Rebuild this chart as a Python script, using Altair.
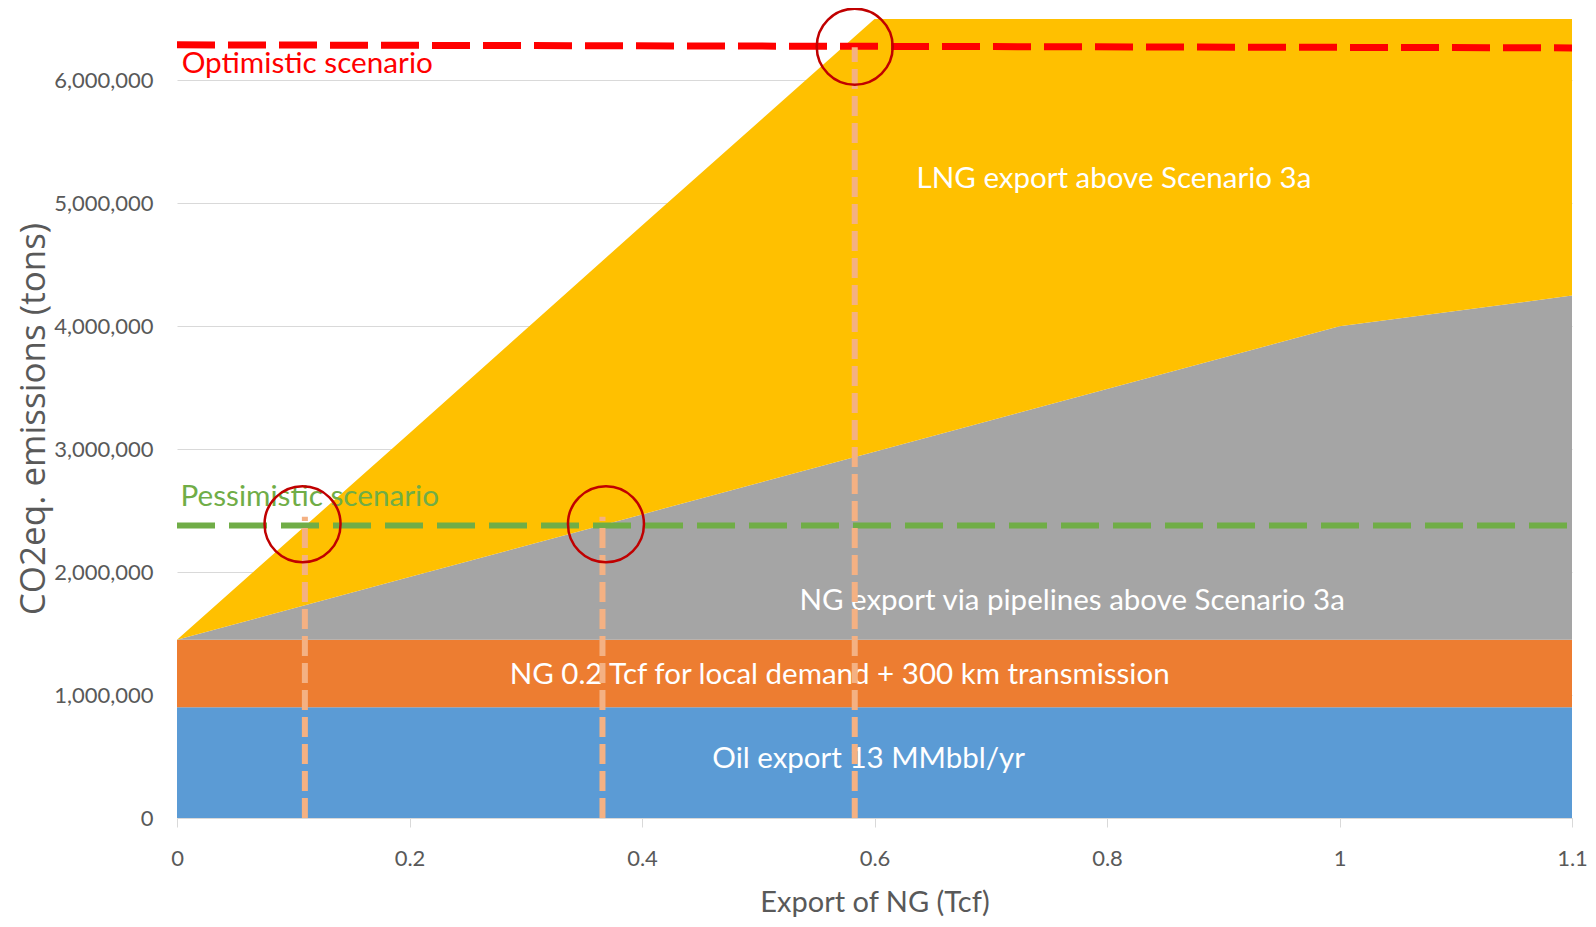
import altair as alt
import pandas as pd

# ---- data ----
x_vals = [0, 0.2, 0.4, 0.6, 0.8, 1.0, 1.1]
series_names = [
    "Oil export",
    "NG local demand",
    "NG pipelines",
    "LNG export",
]
oil = [900000, 900000, 900000, 900000, 900000, 900000, 900000]
ng_local = [550000, 550000, 550000, 550000, 550000, 550000, 550000]
ng_pipe = [0, 510000, 1020000, 1530000, 2040000, 2550000, 2800000]
lng = [0, 1170000, 2350000, 3520000, 3010000, 2500000, 2250000]
series_colors = ["#5B9BD5", "#ED7D31", "#A5A5A5", "#FFC000"]

x_ticks = [0, 0.2, 0.4, 0.6, 0.8, 1, 1.1]
y_ticks = [0, 1000000, 2000000, 3000000, 4000000, 5000000, 6000000]

opt_x = [0, 1.1]
opt_y = [6290000, 6265000]
pes_x = [0, 1.1]
pes_y = [2380000, 2380000]

vline_x = [0.11, 0.366, 0.583]
vline_top = [2450000, 2450000, 6270000]

circle_x = [0.108, 0.369, 0.583]
circle_y = [2390000, 2390000, 6275000]

area_labels = [
    "LNG export above Scenario 3a",
    "NG export via pipelines above Scenario 3a",
    "NG 0.2 Tcf for local demand + 300 km transmission",
    "Oil export 13 MMbbl/yr",
]
area_label_x = [0.806, 0.770, 0.570, 0.595]
area_label_y = [5200000, 1763000, 1167000, 480000]

scen_labels = ["Optimistic scenario", "Pessimistic scenario"]
scen_label_x = [0.004, 0.003]
scen_label_y = [6134000, 2608000]
scen_colors = ["#FF0000", "#70AD47"]

# ---- build tables ----
rows = []
for k, (name, vals) in enumerate(zip(series_names, [oil, ng_local, ng_pipe, lng])):
    for xv, v in zip(x_vals, vals):
        rows.append({"x": xv, "value": v, "series": name, "order": k})
df_area = pd.DataFrame(rows)

FONT_N = "Lato, Liberation Sans, sans-serif"
W, H = 1395, 799

x_scale = alt.Scale(domain=[0, 1, 1.1], range=[0, W * 5 / 6, W], nice=False, zero=False)
y_scale = alt.Scale(domain=[0, 6500000], nice=False)

x_axis = alt.Axis(
    values=x_ticks, format="~g", grid=False, labelFlush=False,
    domainColor="#D9D9D9", tickColor="#D9D9D9", tickSize=9,
    labelFont=FONT_N, labelFontSize=22, labelColor="#595959", labelPadding=21,
    title="Export of NG (Tcf)", titleFont=FONT_N, titleFontSize=29,
    titleColor="#595959", titleFontWeight="normal", titleY=84, titleBaseline="middle",
)
y_axis = alt.Axis(
    values=y_ticks, format=",.0f", grid=True, gridColor="#D9D9D9",
    domain=False, ticks=False,
    labelFont=FONT_N, labelFontSize=22, labelColor="#595959", labelPadding=24,
    title="CO2eq. emissions (tons)", titleFont="Open Sans", titleFontSize=35,
    titleColor="#595959", titleFontWeight="normal",
    titleX=-144, titleY=H / 2, titleAngle=270, titleAlign="center", titleBaseline="middle",
)

areas = alt.Chart(df_area).mark_area(opacity=1).encode(
    x=alt.X("x:Q", scale=x_scale, axis=x_axis),
    y=alt.Y("value:Q", stack="zero", scale=y_scale, axis=y_axis),
    color=alt.Color("series:N", scale=alt.Scale(domain=series_names, range=series_colors), legend=None),
    order=alt.Order("order:Q", sort="ascending"),
)

df_lab = pd.DataFrame({"x": area_label_x, "y": area_label_y, "t": area_labels})
labels = alt.Chart(df_lab).mark_text(
    font=FONT_N, fontSize=29.5, color="white", align="center", baseline="middle"
).encode(x=alt.X("x:Q", scale=x_scale), y=alt.Y("y:Q", scale=y_scale), text="t:N")

df_scl = pd.DataFrame({"x": scen_label_x, "y": scen_label_y, "t": scen_labels, "c": scen_colors})
scen_text = alt.Chart(df_scl).mark_text(
    font=FONT_N, fontSize=29.7, align="left", baseline="middle"
).encode(
    x=alt.X("x:Q", scale=x_scale), y=alt.Y("y:Q", scale=y_scale), text="t:N",
    color=alt.Color("c:N", scale=None),
)

df_opt = pd.DataFrame({"x": opt_x, "y": opt_y})
opt_line = alt.Chart(df_opt).mark_line(
    color="#FF0000", strokeWidth=7, strokeDash=[38, 13], strokeCap="butt"
).encode(x=alt.X("x:Q", scale=x_scale), y=alt.Y("y:Q", scale=y_scale))

df_pes = pd.DataFrame({"x": pes_x, "y": pes_y})
pes_line = alt.Chart(df_pes).mark_line(
    color="#70AD47", strokeWidth=6, strokeDash=[38, 14], strokeCap="butt"
).encode(x=alt.X("x:Q", scale=x_scale), y=alt.Y("y:Q", scale=y_scale))

df_v = pd.DataFrame({"x": vline_x, "y0": [0, 0, 0], "y1": vline_top})
vlines = alt.Chart(df_v).mark_rule(
    color="#F4B183", strokeWidth=6, strokeDash=[20, 7], strokeCap="butt"
).encode(
    x=alt.X("x:Q", scale=x_scale),
    y=alt.Y("y0:Q", scale=y_scale), y2="y1:Q",
)

df_c = pd.DataFrame({"x": circle_x, "y": circle_y})
circles = alt.Chart(df_c).mark_point(
    shape="circle", filled=False, size=5776, strokeWidth=2.5, color="#C00000", opacity=1
).encode(x=alt.X("x:Q", scale=x_scale), y=alt.Y("y:Q", scale=y_scale))

chart = alt.layer(
    areas, labels, scen_text, pes_line, opt_line, vlines, circles
).properties(
    width=W, height=H,
    autosize=alt.AutoSizeParams(type="none"),
    padding={"left": 169, "top": 11, "right": 16, "bottom": 100},
).configure_view(stroke=None)

chart.save("out.html", embed_options={"renderer": "svg", "actions": False})
